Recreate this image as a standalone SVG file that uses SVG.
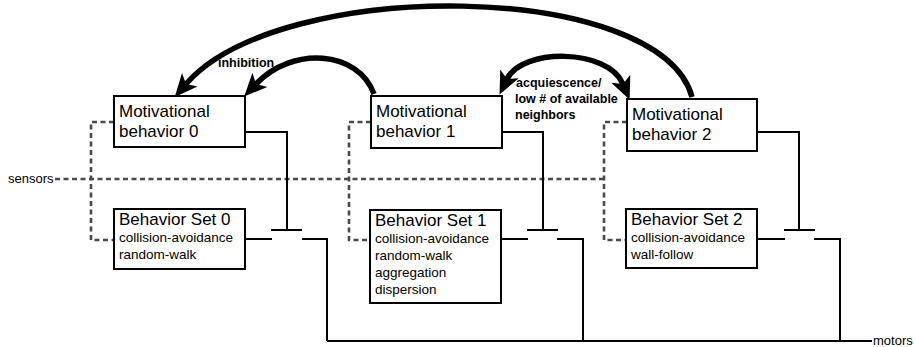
<svg xmlns="http://www.w3.org/2000/svg" width="915" height="347" viewBox="0 0 915 347">
<style>
.box{fill:#fff;stroke:#000;stroke-width:2}
.t{font-family:"Liberation Sans",Arial,sans-serif;fill:#000}
.big{font-size:17px}
.sm{font-size:13.5px}
.lbl{font-size:12.5px;font-weight:bold}
.io{font-size:13px}
.wire{fill:none;stroke:#000;stroke-width:2}
.dash{fill:none;stroke:#4a4a4a;stroke-width:2.6;stroke-dasharray:5 3.5}
.arc{fill:none;stroke:#000;stroke-width:5.5}
</style>
<defs>
<marker id="ah" markerUnits="userSpaceOnUse" markerWidth="24" markerHeight="24" viewBox="0 -10 21 20" refX="5" refY="0" orient="auto-start-reverse">
<path d="M0,-9 L20,0 L0,9 L5,0 z" fill="#000"/>
</marker>
</defs>
<rect width="915" height="347" fill="#fff"/>
<g id="connectors">
<path class="dash" d="M55,179 H604"/>
<path class="dash" d="M114,122 H91 V240 H114"/>
<path class="dash" d="M371,122 H349 V240 H370"/>
<path class="dash" d="M627,122 H604 V240 H626"/>
<path class="wire" d="M245,132 H287 V230"/>
<path class="wire" d="M271,230 H302"/>
<path class="wire" d="M245,239 H272"/>
<path class="wire" d="M302,239 H327 V341"/>
<path class="wire" d="M502,132 H543 V230"/>
<path class="wire" d="M527,230 H558"/>
<path class="wire" d="M501,239 H528"/>
<path class="wire" d="M557,239 H583 V341"/>
<path class="wire" d="M757,132 H799 V230"/>
<path class="wire" d="M784,230 H815"/>
<path class="wire" d="M757,239 H785"/>
<path class="wire" d="M814,239 H840 V341"/>
<path class="wire" d="M327,341 H872"/>
<path class="arc" d="M692,97 C660,-20 280,-24 186,84" marker-end="url(#ah)"/>
<path class="arc" d="M374,94 C358,50 292,46 256,84" marker-end="url(#ah)"/>
<path class="arc" d="M507,79 C522,48 608,48 623,84" marker-start="url(#ah)" marker-end="url(#ah)"/>
</g>
<g id="mb0">
<rect class="box" x="114" y="96" width="131" height="51"/>
<text class="t big" x="119" y="117">Motivational</text>
<text class="t big" x="119" y="137">behavior 0</text>
</g>
<g id="mb1">
<rect class="box" x="371" y="96" width="131" height="52"/>
<text class="t big" x="376" y="117">Motivational</text>
<text class="t big" x="376" y="137">behavior 1</text>
</g>
<g id="mb2">
<rect class="box" x="627" y="99" width="130" height="52"/>
<text class="t big" x="632" y="120">Motivational</text>
<text class="t big" x="632" y="140">behavior 2</text>
</g>
<g id="bs0">
<rect class="box" x="114" y="209" width="131" height="60"/>
<text class="t big" x="119" y="225">Behavior Set 0</text>
<text class="t sm" x="119" y="242">collision-avoidance</text>
<text class="t sm" x="119" y="259">random-walk</text>
</g>
<g id="bs1">
<rect class="box" x="370" y="210" width="131" height="93"/>
<text class="t big" x="375" y="226">Behavior Set 1</text>
<text class="t sm" x="375" y="243">collision-avoidance</text>
<text class="t sm" x="375" y="260">random-walk</text>
<text class="t sm" x="375" y="277">aggregation</text>
<text class="t sm" x="375" y="294">dispersion</text>
</g>
<g id="bs2">
<rect class="box" x="626" y="209" width="131" height="59"/>
<text class="t big" x="631" y="225">Behavior Set 2</text>
<text class="t sm" x="631" y="242">collision-avoidance</text>
<text class="t sm" x="631" y="259">wall-follow</text>
</g>
<g id="labels">
<text class="t io" x="8" y="183">sensors</text>
<text class="t io" x="873" y="345">motors</text>
<text class="t lbl" x="218" y="67">inhibition</text>
<text class="t lbl" x="516" y="87">acquiescence/</text>
<text class="t lbl" x="515" y="103">low # of available</text>
<text class="t lbl" x="515" y="119">neighbors</text>
</g>
</svg>
